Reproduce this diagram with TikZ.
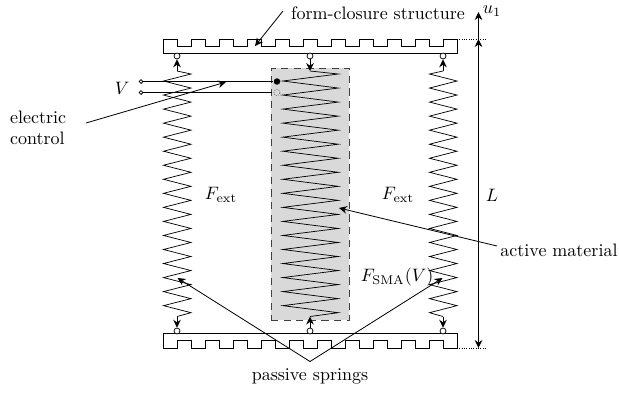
\documentclass[tikz,border=0pt]{standalone}
\usepackage{amsmath,amssymb}
\usepackage{xcolor}
\usetikzlibrary{positioning, arrows.meta}
\tikzstyle{arrow} = [->,>={Stealth[length=4.4pt,width=4.2pt,inset=1.4pt]},line width=0.55pt]
\tikzstyle{pin} = [circle, draw, fill=white, inner sep=0pt, minimum size=3.3pt, line width=0.4pt]
\newcommand{\springpath}[4]{% x of stem, x of first peak, x of second peak, name
    \coordinate (#4top) at (#1,71);
    \coordinate (#4bot) at (#1,316.5);
    \draw[line width=0.4pt] (#4top) -- (#2,74)
        \foreach \k in {0,...,16} { -- (#3,81+14.04*\k) -- (#2,88.04+14.04*\k) } -- (#4bot);
}
\begin{document}
\begin{tikzpicture}[
    x=0.5556pt, y=-0.5556pt,
    every node/.style={inner sep=1pt},
    note/.style={->, >={Stealth[length=4.4pt,width=4.2pt,inset=1.4pt]}, line width=0.45pt}
]
    \path[use as bounding box, fill=white] (0,0) rectangle (619,393);

    % active material
    \node[draw=black!75, dash pattern=on 4pt off 3pt, fill=gray!30, line width=0.5pt, minimum width=43.3pt, minimum height=140pt, inner sep=0pt] (sma) at (310,194) {};

    % bars with teeth
    \draw[line width=0.5pt] (163,53) -- (457,53) -- (457,39)
        \foreach \k in {0,...,9} { -- (443-28*\k,39) -- (443-28*\k,46.5) -- (429-28*\k,46.5) -- (429-28*\k,39) }
        -- (163,39) -- cycle;
    \draw[line width=0.5pt] (163,333.5) -- (163,348)
        \foreach \k in {0,...,9} { -- (177+28*\k,348) -- (177+28*\k,340.5) -- (191+28*\k,340.5) -- (191+28*\k,348) }
        -- (457,348) -- (457,333.5) -- cycle;

    % springs
    \springpath{177}{191}{163.5}{sl}
    \springpath{310}{338.3}{282.7}{sm}
    \springpath{443}{429.5}{457}{sr}

    % pins
    \node[pin] (ptl) at (177,56) {};
    \node[pin] (ptm) at (310,56) {};
    \node[pin] (ptr) at (443,56) {};
    \node[pin] (pbl) at (177,331) {};
    \node[pin] (pbm) at (310,331) {};
    \node[pin] (pbr) at (443,331) {};

    \draw[arrow] (sltop) -- (ptl);
    \draw[arrow] (ptm) -- (smtop);
    \draw[arrow] (srtop) -- (ptr);
    \draw[arrow] (slbot) -- (pbl);
    \draw[arrow] (pbm) -- (smbot);
    \draw[arrow] (srbot) -- (pbr);

    % wires
    \node[pin, minimum size=2.2pt] (va) at (141,81.5) {};
    \node[pin, minimum size=2.2pt] (vb) at (141,92.5) {};
    \node[circle, fill=black, inner sep=0pt, minimum size=3.6pt] (ca) at (277,81.5) {};
    \node[circle, draw=black!60, dash pattern=on 0.5pt off 0.7pt, line width=0.4pt, inner sep=0pt, minimum size=3.4pt] (cb) at (277,92.5) {};
    \draw[line width=0.5pt] (va) -- (ca);
    \draw[line width=0.5pt, shorten >=1pt] (vb) -- (cb);

    % labels
    \node (lv) at (122,88) {$V$};
    \node[align=left, anchor=west] (lec) at (8,128) {electric\\control};
    \node (lfc) at (378,13) {form-closure structure};
    \node (lu) at (492,11) {$u_1$};
    \node (ll) at (492,195) {$L$};
    \node (lfl) at (221,195) {$F_{\text{ext}}$};
    \node (lfr) at (398,195) {$F_{\text{ext}}$};
    \node (lfs) at (397,277) {$F_{\text{SMA}}(V)$};
    \node (lam) at (559,250) {active material};
    \node (lps) at (310,376) {passive springs};

    % dimension arrows
    \coordinate (utop) at (478.5,12);
    \coordinate (ltop) at (478.5,39);
    \coordinate (lbot) at (478.5,348);
    \draw[arrow, line width=0.6pt] (ltop) -- (utop);
    \draw[arrow, line width=0.6pt, <->] (ltop) -- (lbot);
    \draw[densely dotted, line width=0.3pt] (457,39) -- (487,39);
    \draw[densely dotted, line width=0.3pt] (457,348) -- (487,348);

    % pointers
    \coordinate (aec) at (86,123);
    \coordinate (tec) at (226,82);
    \coordinate (afc) at (283,11);
    \coordinate (tfc) at (255,46);
    \coordinate (aam) at (497,246);
    \coordinate (tam) at (339,208);
    \coordinate (aps) at (310,361.5);
    \coordinate (tpl) at (177.5,278);
    \coordinate (tpr) at (442.5,278);
    \draw[note] (aec) -- (tec);
    \draw[note] (afc) -- (tfc);
    \draw[note] (aam) -- (tam);
    \draw[note] (aps) -- (tpl);
    \draw[note] (aps) -- (tpr);
\end{tikzpicture}
\end{document}
